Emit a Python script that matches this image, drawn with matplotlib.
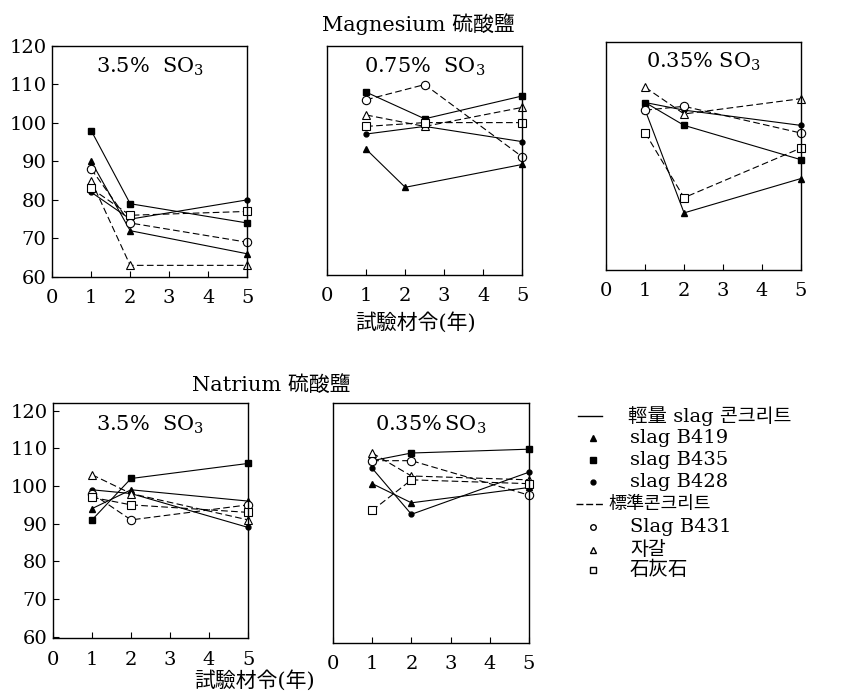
import matplotlib
matplotlib.use("Agg")
import matplotlib.pyplot as plt
from matplotlib.lines import Line2D

plt.rcParams['font.family'] = ['DejaVu Serif', 'Noto Sans CJK KR']
plt.rcParams['mathtext.fontset'] = 'dejavuserif'

# panel labels (Magnesium: 3 panels, Natrium: 2 panels)
panel_labels = ['3.5%  SO$_3$', '0.75%  SO$_3$', '0.35% SO$_3$', '3.5%  SO$_3$', '0.35%$\\,$SO$_3$']

# test age (years) for each panel
ages = [[1, 2, 5], [1, 2.5, 5], [1, 2, 5], [1, 2, 5], [1, 2, 5]]
b419_ages = [[1, 2, 5], [1, 2, 5], [1, 2, 5], [1, 2, 5], [1, 2, 5]]

# light-weight slag concrete (solid lines)
b419 = [[90, 72, 66], [93, 83, 89], [102, 75, 84], [94, 99, 96], [101, 96, 100]]
b435 = [[98, 79, 74], [108, 101, 107], [104, 98, 89], [91, 102, 106], [107, 109, 110]]
b428 = [[82, 75, 80], [97, 99, 95], [104, 102, 98], [99, 98, 89], [105, 93, 104]]

# standard concrete (dashed lines)
b431 = [[88, 74, 69], [106, 110, 91], [102, 103, 96], [98, 91, 95], [107, 107, 98]]
gravel = [[85, 63, 63], [102, 99, 104], [108, 101, 105], [103, 98, 91], [109, 103, 102]]
limestone = [[83, 76, 77], [99, 100, 100], [96, 79, 92], [97, 95, 93], [94, 102, 101]]

fig = plt.figure(figsize=(8.41, 6.94), dpi=100)

boxes = [
    [0.062, 0.601, 0.232, 0.333],
    [0.389, 0.604, 0.232, 0.329],
    [0.721, 0.611, 0.231, 0.329],
    [0.063, 0.080, 0.232, 0.339],
    [0.396, 0.074, 0.233, 0.345],
]

solid = dict(color='black', lw=0.8, ls='-', clip_on=False)
dashed = dict(color='black', lw=0.8, ls=(0, (6, 3)), clip_on=False)

for i, box in enumerate(boxes):
    ax = fig.add_axes(box)
    x = ages[i]
    ax.plot(b419_ages[i], b419[i], marker='^', ms=4, mfc='black', mec='black', **solid)
    ax.plot(x, b435[i], marker='s', ms=4, mfc='black', mec='black', **solid)
    ax.plot(x, b428[i], marker='o', ms=3.5, mfc='black', mec='black', **solid)
    ax.plot(x, b431[i], marker='o', ms=6, mfc='white', mec='black', mew=0.8, **dashed)
    ax.plot(x, gravel[i], marker='^', ms=6, mfc='white', mec='black', mew=0.8, **dashed)
    ax.plot(x, limestone[i], marker='s', ms=5.5, mfc='white', mec='black', mew=0.8, **dashed)

    ax.set_xlim(0, 5)
    if i < 3:
        ax.set_ylim(60, 120)
    else:
        ax.set_ylim(59.5, 122)
    ax.set_xticks([0, 1, 2, 3, 4, 5])
    ax.set_yticks([60, 70, 80, 90, 100, 110, 120])
    ax.tick_params(direction='in', length=4, width=0.8, labelsize=14)
    ax.tick_params(axis='x', pad=9)
    if i in (0, 3):
        ax.tick_params(axis='y', pad=4)
    else:
        ax.tick_params(axis='y', left=False, labelleft=False)
    for s in ax.spines.values():
        s.set_linewidth(1.0)
    ax.text(0.5, 0.91, panel_labels[i], transform=ax.transAxes, ha='center',
            va='center', fontsize=15)

# titles and axis captions
fig.text(0.497, 0.966, 'Magnesium 硫酸鹽', ha='center', va='center', fontsize=15)
fig.text(0.494, 0.535, '試驗材令(年)', ha='center', va='center', fontsize=15)
fig.text(0.322, 0.446, 'Natrium 硫酸鹽', ha='center', va='center', fontsize=15)
fig.text(0.303, 0.020, '試驗材令(年)', ha='center', va='center', fontsize=15)

# legend drawn on the right
def fy(py):
    return 1 - py / 694

def fx(px):
    return px / 841

fig.add_artist(Line2D([fx(578), fx(602)], [fy(416), fy(416)], color='black', lw=1.0,
                      transform=fig.transFigure))
fig.text(fx(628), fy(416), '輕量 slag 콘크리트', va='center', fontsize=14)
fig.add_artist(Line2D([fx(593)], [fy(438)], marker='^', ms=4, color='black', ls='none',
                      transform=fig.transFigure))
fig.text(fx(630), fy(438), 'slag B419', va='center', fontsize=14)
fig.add_artist(Line2D([fx(593)], [fy(460)], marker='s', ms=4, color='black', ls='none',
                      transform=fig.transFigure))
fig.text(fx(630), fy(460), 'slag B435', va='center', fontsize=14)
fig.add_artist(Line2D([fx(593)], [fy(482)], marker='o', ms=3.5, color='black', ls='none',
                      transform=fig.transFigure))
fig.text(fx(630), fy(482), 'slag B428', va='center', fontsize=14)
fig.add_artist(Line2D([fx(576), fx(604)], [fy(504), fy(504)], color='black', lw=1.0,
                      ls=(0, (5, 2)), transform=fig.transFigure))
fig.text(fx(608), fy(504), '標準콘크리트', va='center', fontsize=13)
fig.add_artist(Line2D([fx(593)], [fy(527)], marker='o', ms=4, mfc='white', mec='black',
                      ls='none', transform=fig.transFigure))
fig.text(fx(630), fy(527), 'Slag B431', va='center', fontsize=14)
fig.add_artist(Line2D([fx(593)], [fy(550)], marker='^', ms=4, mfc='white', mec='black',
                      ls='none', transform=fig.transFigure))
fig.text(fx(630), fy(550), '자갈', va='center', fontsize=14)
fig.add_artist(Line2D([fx(593)], [fy(570)], marker='s', ms=4, mfc='white', mec='black',
                      ls='none', transform=fig.transFigure))
fig.text(fx(630), fy(570), '石灰石', va='center', fontsize=14)

fig.savefig('out.png', dpi=100)
